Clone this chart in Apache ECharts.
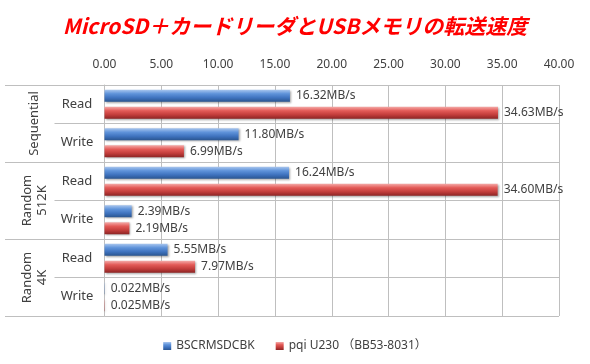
<!DOCTYPE html>
<html><head><meta charset="utf-8">
<script src="https://cdn.jsdelivr.net/npm/echarts@6/dist/echarts.min.js"></script>
<style>html,body{margin:0;padding:0;background:#fff}#c{width:590px;height:364px}</style>
</head><body><div id="c"></div>
<script>
const titleText = 'MicroSD＋カードリーダとUSBメモリの転送速度';
const rowLabels = ['Read', 'Write', 'Read', 'Write', 'Read', 'Write'];
const groupLabels = ['Sequential', 'Random\n512K', 'Random\n4K'];
const seriesNames = ['BSCRMSDCBK', 'pqi U230 （BB53-8031）'];
const bscValues = [16.32, 11.80, 16.24, 2.39, 5.55, 0.022];
const pqiValues = [34.63, 6.99, 34.60, 2.19, 7.97, 0.025];
const xTicks = { min: 0, max: 40, interval: 5 };

const grey = '#bfbfbf';
const txt = '#404040';
const fam = '"Noto Sans", "Noto Sans CJK JP", sans-serif';

function grad(stops) {
  return new echarts.graphic.LinearGradient(0, 0, 0, 1, stops.map((c, i) => ({ offset: i / (stops.length - 1), color: c })));
}
const blueGrad = grad(['#a9c6ee', '#5f93da', '#3f73bf', '#2a5590']);
const redGrad = grad(['#f4aaa8', '#e35a57', '#c23d3b', '#8c2424']);

function fmt(v) { return (v < 1 ? v.toFixed(3) : v.toFixed(2)) + 'MB/s'; }

const chart = echarts.init(document.getElementById('c'));
chart.setOption({
  animation: false,
  textStyle: { fontFamily: fam },
  title: {
    text: titleText, left: 'center', top: 11,
    textStyle: { color: '#ff0000', fontSize: 21, fontWeight: 'bold', fontStyle: 'italic', fontFamily: '"Noto Sans CJK JP", sans-serif' }
  },
  legend: {
    bottom: 7, left: 'center', icon: 'rect', itemWidth: 8, itemHeight: 8, itemGap: 21,
    textStyle: { color: txt, fontSize: 12, fontFamily: fam },
    data: seriesNames
  },
  grid: { left: 104.5, right: 31, top: 85, bottom: 48 },
  xAxis: {
    type: 'value', position: 'top', min: xTicks.min, max: xTicks.max, interval: xTicks.interval,
    axisLine: { show: true, lineStyle: { color: grey } },
    axisTick: { show: false },
    splitLine: { show: true, lineStyle: { color: grey } },
    axisLabel: { color: txt, fontSize: 12, margin: 14, formatter: v => v.toFixed(2) }
  },
  yAxis: [
    {
      type: 'category', inverse: true, data: rowLabels,
      axisLine: { show: true, lineStyle: { color: grey } },
      axisTick: { show: true, length: 50, interval: 0, lineStyle: { color: grey } },
      splitLine: { show: true, interval: 0, lineStyle: { color: grey } },
      axisLabel: { color: txt, fontSize: 13, margin: 27.5, align: 'center', interval: 0 }
    },
    {
      type: 'category', inverse: true, data: groupLabels, position: 'left',
      axisLine: { show: false },
      axisTick: { show: true, length: 99.5, interval: 0, lineStyle: { color: grey } },
      splitLine: { show: false },
      axisLabel: { color: txt, fontSize: 13, rotate: 90, margin: 70, align: 'center', verticalAlign: 'middle', lineHeight: 15, interval: 0 }
    }
  ],
  series: [
    {
      name: seriesNames[0], type: 'bar', yAxisIndex: 0, data: bscValues,
      barWidth: 12, barGap: '42%',
      itemStyle: { color: blueGrad, shadowColor: 'rgba(0,0,0,0.35)', shadowBlur: 2, shadowOffsetX: 1, shadowOffsetY: 1 },
      label: { show: true, position: 'right', distance: 6, color: txt, fontSize: 12, formatter: p => fmt(p.value) }
    },
    {
      name: seriesNames[1], type: 'bar', yAxisIndex: 0, data: pqiValues,
      barWidth: 12, barGap: '42%',
      itemStyle: { color: redGrad, shadowColor: 'rgba(0,0,0,0.35)', shadowBlur: 2, shadowOffsetX: 1, shadowOffsetY: 1 },
      label: { show: true, position: 'right', distance: 6, color: txt, fontSize: 12, formatter: p => fmt(p.value) }
    }
  ]
});
</script></body></html>
